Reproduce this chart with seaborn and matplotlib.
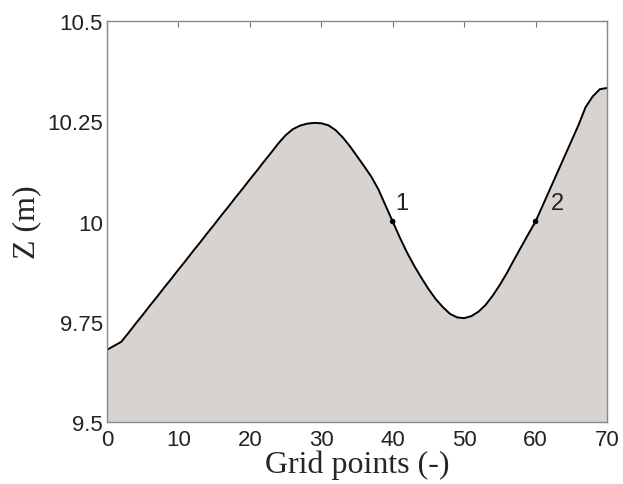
import numpy as np
import pandas as pd
import matplotlib
matplotlib.use("Agg")
import matplotlib.pyplot as plt
import seaborn as sns

# bed profile, one value per grid point
grid = list(range(0, 71))
z = [9.680, 9.690, 9.700, 9.722, 9.745, 9.767, 9.790, 9.812, 9.835, 9.857,
     9.880, 9.902, 9.925, 9.947, 9.970, 9.992, 10.015, 10.037, 10.060, 10.082,
     10.105, 10.127, 10.150, 10.172, 10.195, 10.215, 10.230, 10.239, 10.244, 10.246,
     10.245, 10.240, 10.228, 10.210, 10.188, 10.163, 10.138, 10.112, 10.080, 10.040,
     10.000, 9.960, 9.923, 9.890, 9.860, 9.832, 9.807, 9.787, 9.770, 9.761,
     9.759, 9.764, 9.775, 9.792, 9.815, 9.842, 9.872, 9.905, 9.937, 9.969,
     10.000, 10.040, 10.080, 10.120, 10.160, 10.200, 10.240, 10.285, 10.312, 10.330,
     10.333]

probe_x = [40, 60]
probe_z = [10.0, 10.0]
probe_labels = ["1", "2"]

df = pd.DataFrame({"grid": grid, "z": z})
probes = pd.DataFrame({"grid": probe_x, "z": probe_z, "label": probe_labels})

sns.set_style("white")

fig = plt.figure(figsize=(6.23, 4.85), dpi=100)
ax = fig.add_axes([0.1717, 0.1278, 0.8026, 0.8268])

ax.fill_between(df["grid"], 9.5, df["z"], color="#d8d3cf", linewidth=0)
sns.lineplot(data=df, x="grid", y="z", color="black", linewidth=1.4, ax=ax)
sns.scatterplot(data=probes, x="grid", y="z", color="black", s=16, edgecolor="none", ax=ax, zorder=5)
# label offsets (in data units) so the numbers sit to the right of the curve
offsets = {"1": 1.3, "2": 3.0}
for _, r in probes.iterrows():
    ax.text(r["grid"] + offsets[r["label"]], r["z"] + 0.045, r["label"], fontsize=17,
            family="Liberation Sans", color="#222222", ha="center", va="center")

ax.set_xlim(0, 70)
ax.set_ylim(9.5, 10.5)
ax.set_xticks([0, 10, 20, 30, 40, 50, 60, 70])
ax.set_yticks([9.5, 9.75, 10, 10.25, 10.5])
ax.set_yticklabels(["9.5", "9.75", "10", "10.25", "10.5"])
ax.tick_params(direction="in", length=4, top=True, right=True, color="#777777",
               labelsize=16, labelcolor="#222222")
ax.tick_params(axis="x", pad=5)
ax.tick_params(axis="y", pad=3)
for lab in ax.get_xticklabels() + ax.get_yticklabels():
    lab.set_family("Liberation Sans")
for s in ax.spines.values():
    s.set_color("#888888")
    s.set_linewidth(1.0)

ax.set_xlabel("Grid points (-)", family="Liberation Serif", fontsize=23, labelpad=0)
ax.set_ylabel("Z (m)", family="Liberation Serif", fontsize=23, labelpad=4)

fig.savefig("out.png", dpi=100)
